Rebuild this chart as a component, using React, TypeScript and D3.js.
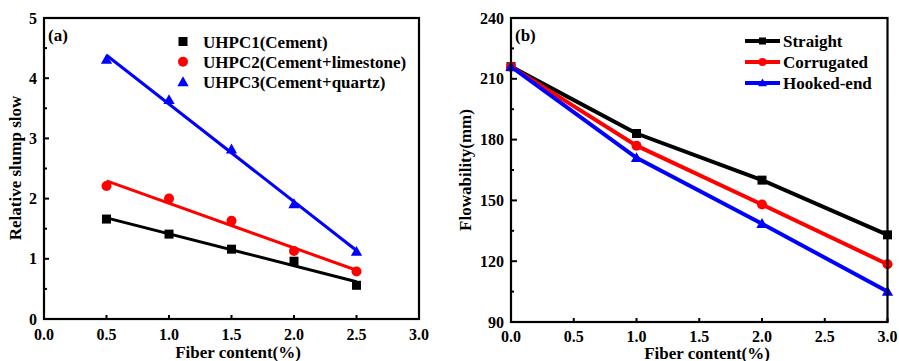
import React from "react";
import * as d3 from "d3";

const W = 899;
const H = 361;

// Panel (a)
const fiberA = [0.5, 1.0, 1.5, 2.0, 2.5];
const uhpc1 = [1.66, 1.41, 1.16, 0.96, 0.56];
const uhpc2 = [2.21, 2.0, 1.63, 1.13, 0.79];
const uhpc3 = [4.31, 3.64, 2.82, 1.91, 1.12];
const seriesA = ["UHPC1(Cement)", "UHPC2(Cement+limestone)", "UHPC3(Cement+quartz)"];
const xTicksA = [0, 0.5, 1.0, 1.5, 2.0, 2.5, 3.0];
const yTicksA = [0, 1, 2, 3, 4, 5];

// Panel (b)
const fiberB = [0, 1, 2, 3];
const straight = [216, 183, 160, 133];
const corrugated = [216, 177, 148, 118.5];
const hooked = [216, 171, 138.5, 105];
const seriesB = ["Straight", "Corrugated", "Hooked-end"];
const xTicksB = [0, 0.5, 1.0, 1.5, 2.0, 2.5, 3.0];
const yTicksB = [90, 120, 150, 180, 210, 240];

const COLORS = ["#000000", "#ff0000", "#0000ff"];
const FONT = '"Liberation Serif", "Times New Roman", Times, serif';

function Marker({ type, x, y, color, s }: { type: number; x: number; y: number; color: string; s: number }) {
  if (type === 0) return <rect x={x - s / 2} y={y - s / 2} width={s} height={s} fill={color} />;
  if (type === 1) return <circle cx={x} cy={y} r={s / 2 + 0.5} fill={color} />;
  const h = s * 1.05;
  const w = s * 1.25;
  return <path d={`M${x},${y - h * 0.6}L${x + w / 2},${y + h * 0.45}L${x - w / 2},${y + h * 0.45}Z`} fill={color} />;
}

function fit(xs: number[], ys: number[]) {
  const mx = d3.mean(xs) as number;
  const my = d3.mean(ys) as number;
  const num = d3.sum(xs.map((x, i) => (x - mx) * (ys[i] - my)));
  const den = d3.sum(xs.map((x) => (x - mx) ** 2));
  const b = num / den;
  return (x: number) => my + b * (x - mx);
}

export default function App() {
  const xa = d3.scaleLinear().domain([0, 3]).range([44, 419]);
  const ya = d3.scaleLinear().domain([0, 5]).range([319, 18]);
  const xb = d3.scaleLinear().domain([0, 3]).range([511, 887.5]);
  const yb = d3.scaleLinear().domain([90, 240]).range([322, 18]);

  const dataA = [uhpc1, uhpc2, uhpc3];
  const dataB = [straight, corrugated, hooked];
  const lineB = d3.line<number>().x((_, i) => xb(fiberB[i])).y((d) => yb(d));

  const minorA = d3.range(0.5, 5, 1);
  const minorB = d3.range(105, 240, 30);

  return (
    <svg width={W} height={H} style={{ position: "absolute", left: 0, top: 0, background: "#fff", fontFamily: FONT, fontWeight: 700 }}>
      <rect x={0} y={0} width={W} height={H} fill="#fff" />
      {/* ===== Panel a ===== */}
      <g>
        {dataA.map((ys, k) => {
          const f = fit(fiberA, ys);
          return (
            <line key={k} x1={xa(0.5)} y1={ya(f(0.5))} x2={xa(2.5)} y2={ya(f(2.5))} stroke={COLORS[k]} strokeWidth={3} />
          );
        })}
        {dataA.map((ys, k) =>
          ys.map((v, i) => <Marker key={`${k}-${i}`} type={k} x={xa(fiberA[i])} y={ya(v)} color={COLORS[k]} s={9} />)
        )}
        <rect x={44} y={18} width={375} height={301} fill="none" stroke="#000" strokeWidth={2.2} />
        {xTicksA.map((t) => (
          <g key={t}>
            <line x1={xa(t)} x2={xa(t)} y1={319} y2={315} stroke="#000" strokeWidth={2} />
            <text x={xa(t)} y={340} textAnchor="middle" fontSize={16}>{t.toFixed(1)}</text>
          </g>
        ))}
        {yTicksA.map((t) => (
          <g key={t}>
            <line x1={44} x2={49} y1={ya(t)} y2={ya(t)} stroke="#000" strokeWidth={2} />
            <text x={37} y={ya(t) + 5.5} textAnchor="end" fontSize={16}>{t}</text>
          </g>
        ))}
        {minorA.map((t) => (
          <line key={t} x1={44} x2={47} y1={ya(t)} y2={ya(t)} stroke="#000" strokeWidth={2} />
        ))}
        <text x={238} y={358} textAnchor="middle" fontSize={17}>Fiber content(%)</text>
        <text transform={`translate(21,${168}) rotate(-90)`} textAnchor="middle" fontSize={17}>Relative slump slow</text>
        <text x={48} y={41} fontSize={17}>(a)</text>
        {seriesA.map((s, k) => (
          <g key={s}>
            <Marker type={k} x={183} y={41.5 + k * 20.2} color={COLORS[k]} s={9} />
            <text x={203} y={47.5 + k * 20.2} fontSize={17}>{s}</text>
          </g>
        ))}
      </g>

      {/* ===== Panel b ===== */}
      <g>
        {dataB.map((ys, k) => (
          <path key={k} d={lineB(ys) as string} fill="none" stroke={COLORS[k]} strokeWidth={4} />
        ))}
        {dataB.map((ys, k) =>
          ys.map((v, i) => <Marker key={`${k}-${i}`} type={k} x={xb(fiberB[i])} y={yb(v)} color={COLORS[k]} s={9} />)
        )}
        <rect x={511} y={18} width={376.5} height={304} fill="none" stroke="#000" strokeWidth={2.2} />
        {xTicksB.map((t) => (
          <g key={t}>
            <line x1={xb(t)} x2={xb(t)} y1={322} y2={318} stroke="#000" strokeWidth={2} />
            <text x={xb(t)} y={341.5} textAnchor="middle" fontSize={16}>{t.toFixed(1)}</text>
          </g>
        ))}
        {yTicksB.map((t) => (
          <g key={t}>
            <line x1={511} x2={517} y1={yb(t)} y2={yb(t)} stroke="#000" strokeWidth={2} />
            <text x={504} y={yb(t) + 5.5} textAnchor="end" fontSize={16}>{t}</text>
          </g>
        ))}
        {minorB.map((t) => (
          <line key={t} x1={511} x2={514} y1={yb(t)} y2={yb(t)} stroke="#000" strokeWidth={2} />
        ))}
        <text x={707} y={358.5} textAnchor="middle" fontSize={17}>Fiber content(%)</text>
        <text transform={`translate(471,${170}) rotate(-90)`} textAnchor="middle" fontSize={17}>Flowability(mm)</text>
        <text x={515} y={41} fontSize={17}>(b)</text>
        {seriesB.map((s, k) => (
          <g key={s}>
            <line x1={745} x2={780} y1={41 + k * 21} y2={41 + k * 21} stroke={COLORS[k]} strokeWidth={4} />
            <Marker type={k} x={762.5} y={41 + k * 21} color={COLORS[k]} s={7} />
            <text x={783} y={47 + k * 21} fontSize={17}>{s}</text>
          </g>
        ))}
      </g>
    </svg>
  );
}
